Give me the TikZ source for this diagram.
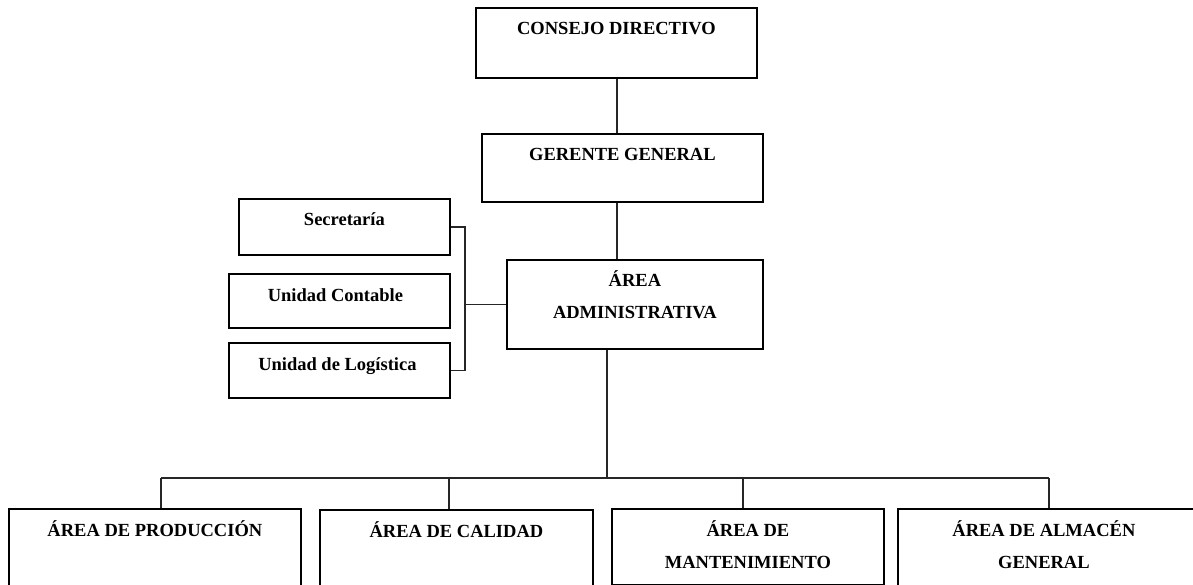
\documentclass[tikz,border=0pt]{standalone}
\usepackage{fontspec}
\setmainfont{Liberation Serif}
\usetikzlibrary{calc}
% two centred lines whose baseline is that of the first line
\newcommand{\stacked}[2]{\begin{tabular}[t]{@{}c@{}}#1\\#2\end{tabular}}
\begin{document}
\begin{tikzpicture}[x=1pt,y=-1pt,
  orgbox/.style={draw=black,line width=1.8pt,rectangle,inner sep=0pt,anchor=north west},
  boxtext/.style={anchor=base,yshift=-28pt,inner sep=0pt,
    font=\fontsize{18.5}{32}\selectfont\bfseries},
  link/.style={draw=black!85,line width=1.3pt}]
  \useasboundingbox (0,0) rectangle (1193,585);
  \clip (0,0) rectangle (1193,585);

  % top of the hierarchy
  \node[orgbox,minimum width=281pt,minimum height=70pt,
        label={[boxtext]north:CONSEJO DIRECTIVO}] (cd) at (475,7) {};
  \node[orgbox,minimum width=281pt,minimum height=68pt,
        label={[boxtext]north:GERENTE GENERAL}] (gg) at (481,133) {};
  \node[orgbox,minimum width=256pt,minimum height=89pt,
        label={[boxtext]north:{\stacked{ÁREA}{ADMINISTRATIVA}}}] (adm) at (506,259) {};

  % support units
  \node[orgbox,minimum width=211pt,minimum height=56pt,
        label={[boxtext]north:Secretaría}] (sec) at (238,198) {};
  \node[orgbox,minimum width=221pt,minimum height=54pt,
        label={[boxtext,xshift=-4pt]north:Unidad Contable}] (uc) at (228,273) {};
  \node[orgbox,minimum width=221pt,minimum height=55pt,
        label={[boxtext,xshift=-2pt]north:Unidad de Logística}] (ul) at (228,342) {};

  % operating areas
  \node[orgbox,minimum width=292pt,minimum height=120pt,
        label={[boxtext]north:ÁREA DE PRODUCCIÓN}] (p1) at (8,508) {};
  \node[orgbox,minimum width=273pt,minimum height=120pt,
        label={[boxtext]north:ÁREA DE CALIDAD}] (p2) at (319,509) {};
  \node[orgbox,minimum width=272pt,minimum height=76pt,
        label={[boxtext]north:{\stacked{ÁREA DE}{MANTENIMIENTO}}}] (p3) at (611,508) {};
  \node[orgbox,minimum width=298pt,minimum height=120pt,
        label={[boxtext,xshift=-3pt]north:{\stacked{ÁREA DE ALMACÉN}{GENERAL}}}] (p4) at (897,508) {};

  % routing points
  \coordinate (spine) at (617,0);
  \coordinate (brk) at (465,0);
  \coordinate (bus) at (607,478);
  \coordinate (j1) at (161,478);
  \coordinate (j2) at (449,478);
  \coordinate (j3) at (743,478);
  \coordinate (j4) at (1049,478);

  % connectors
  \draw[link] (cd.south -| spine) -- (gg.north -| spine);
  \draw[link] (gg.south -| spine) -- (adm.north -| spine);
  \draw[link] (sec.east) -- (sec.east -| brk) -- (ul.east -| brk) -- (ul.east);
  \draw[link] (adm.west) -- (adm.west -| brk);
  \draw[link] (adm.south -| bus) -- (bus);
  \draw[link] (j1) -- (j4);
  \draw[link] (j1) -- (j1 |- p1.north);
  \draw[link] (j2) -- (j2 |- p2.north);
  \draw[link] (j3) -- (j3 |- p3.north);
  \draw[link] (j4) -- (j4 |- p4.north);
\end{tikzpicture}
\end{document}
